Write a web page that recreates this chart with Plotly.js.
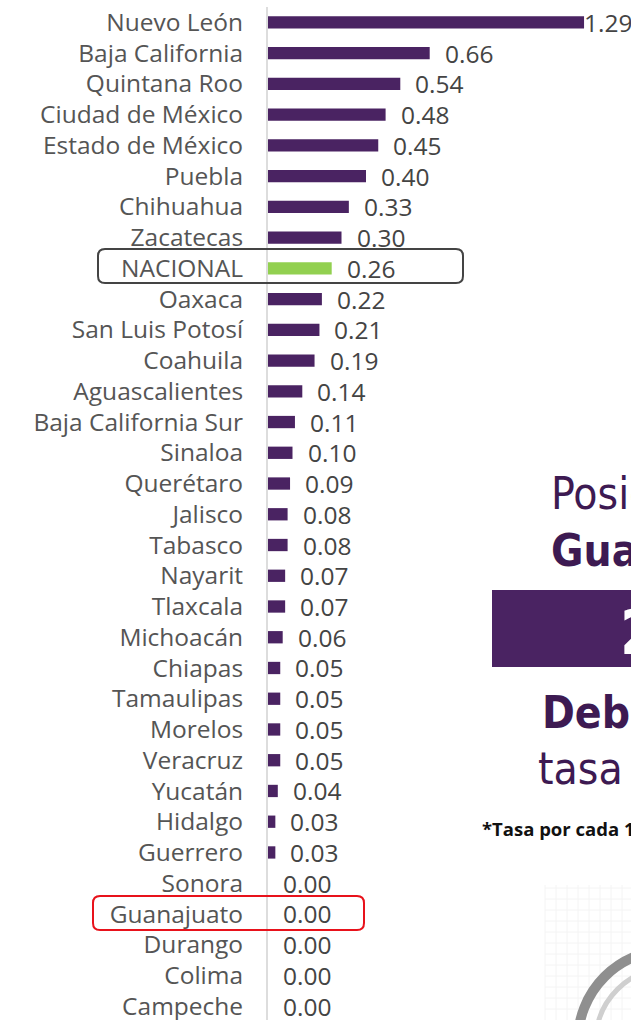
<!DOCTYPE html>
<html>
<head>
<meta charset="utf-8">
<script src="https://cdn.plot.ly/plotly-3.0.1.min.js"></script>
<style>html,body{margin:0;padding:0;background:#fff;overflow:hidden}#chart{width:631px;height:1020px}</style>
</head>
<body>
<div id="chart"></div>
<script>
const estados = ["Nuevo León","Baja California","Quintana Roo","Ciudad de México","Estado de México","Puebla","Chihuahua","Zacatecas","NACIONAL","Oaxaca","San Luis Potosí","Coahuila","Aguascalientes","Baja California Sur","Sinaloa","Querétaro","Jalisco","Tabasco","Nayarit","Tlaxcala","Michoacán","Chiapas","Tamaulipas","Morelos","Veracruz","Yucatán","Hidalgo","Guerrero","Sonora","Guanajuato","Durango","Colima","Campeche"];
const tasas = [1.29,0.66,0.54,0.48,0.45,0.40,0.33,0.30,0.26,0.22,0.21,0.19,0.14,0.11,0.10,0.09,0.08,0.08,0.07,0.07,0.06,0.05,0.05,0.05,0.05,0.04,0.03,0.03,0.00,0.00,0.00,0.00,0.00];
const nacional = "NACIONAL";
const destacado = "Guanajuato";

const purple = "#4a2362";
const green = "#92d050";
const colors = estados.map(e => e === nacional ? green : purple);
const maxVal = Math.max(...tasas);

const labelFont = {family: "Open Sans, Noto Sans, sans-serif", size: 24.5, color: "#555555"};

const trace = {
  type: "bar", orientation: "h",
  x: tasas, y: estados,
  marker: {color: colors},
  width: 0.4,
  hoverinfo: "skip"
};

const annotations = estados.map((e, i) => ({
  x: tasas[i], y: e, xref: "x", yref: "y",
  text: tasas[i].toFixed(2), showarrow: false,
  xanchor: "left", xshift: tasas[i] === maxVal ? -2 : 13,
  font: {family: "Open Sans, Noto Sans, sans-serif", size: 24.5, color: "#444444"}
}));

const narrow = "DejaVu Sans Condensed, Liberation Sans Narrow, Roboto, sans-serif";
annotations.push(
  {xref:"paper", yref:"paper", x:(549-268)/363, y:(1020-493)/1013, xanchor:"left", yanchor:"middle", showarrow:false, text:"Posición de", font:{family:narrow, size:44, color:"#3d1a52"}},
  {xref:"paper", yref:"paper", x:(549-268)/363, y:(1020-550)/1013, xanchor:"left", yanchor:"middle", showarrow:false, text:"<b>Guanajuato</b>", font:{family:narrow, size:44, color:"#3d1a52"}},
  {xref:"paper", yref:"paper", x:(618-268)/363, y:(1020-632)/1013, xanchor:"left", yanchor:"middle", showarrow:false, text:"<b>29°</b>", font:{family:narrow, size:62, color:"#ffffff"}},
  {xref:"paper", yref:"paper", x:(540-268)/363, y:(1020-712)/1013, xanchor:"left", yanchor:"middle", showarrow:false, text:"<b>Debajo de la</b>", font:{family:narrow, size:44, color:"#3d1a52"}},
  {xref:"paper", yref:"paper", x:(536-268)/363, y:(1020-768)/1013, xanchor:"left", yanchor:"middle", showarrow:false, text:"tasa nacional", font:{family:narrow, size:44, color:"#3d1a52"}},
  {xref:"paper", yref:"paper", x:(480-268)/363, y:(1020-828)/1013, xanchor:"left", yanchor:"middle", showarrow:false, text:"<b>*Tasa por cada 100 mil habitantes</b>", font:{family:"Open Sans, sans-serif", size:18.5, color:"#111111"}}
);

// pixel helpers for decorative shapes (page px -> paper)
const W = 363, H = 1013, L = 268, T = 7;
const px = v => (v - L) / W;
const py = v => (T + H - v) / H;
function roundRect(x0, y0, x1, y1, r) {
  const a = px(x0), b = px(x1), c = py(y0), d = py(y1);
  const rx = r / W, ry = r / H;
  return `M ${a+rx} ${c} L ${b-rx} ${c} Q ${b} ${c} ${b} ${c-ry} L ${b} ${d+ry} Q ${b} ${d} ${b-rx} ${d} L ${a+rx} ${d} Q ${a} ${d} ${a} ${d+ry} L ${a} ${c-ry} Q ${a} ${c} ${a+rx} ${c} Z`;
}

const shapes = [
  {type:"rect", xref:"paper", yref:"paper", x0:px(492), x1:px(640), y0:py(590), y1:py(667), fillcolor:"#4a2362", line:{width:0}, layer:"below"},
  {type:"path", xref:"paper", yref:"paper", path: roundRect(98, 249, 463, 283, 7), line:{color:"#444444", width:2}},
  {type:"path", xref:"paper", yref:"paper", path: roundRect(93, 896, 364, 930, 7), line:{color:"#e8121b", width:2}}
];
// faint grid decoration
for (let gx = 545; gx < 640; gx += 11) {
  shapes.push({type:"line", xref:"paper", yref:"paper", x0:px(gx), x1:px(gx), y0:py(885), y1:py(1020), line:{color:"#f4f4f4", width:1}, layer:"below"});
}
for (let gy = 888; gy < 1020; gy += 11) {
  shapes.push({type:"line", xref:"paper", yref:"paper", x0:px(545), x1:px(640), y0:py(gy), y1:py(gy), line:{color:"#f4f4f4", width:1}, layer:"below"});
}
// ring decoration
shapes.push({type:"circle", xref:"paper", yref:"paper", x0:px(578), x1:px(760), y0:py(950), y1:py(1132), line:{color:"#8f8f8f", width:10}, fillcolor:"rgba(0,0,0,0)", layer:"below"});
shapes.push({type:"circle", xref:"paper", yref:"paper", x0:px(596), x1:px(742), y0:py(968), y1:py(1114), line:{color:"#cfcfcf", width:5}, fillcolor:"rgba(0,0,0,0)", layer:"below"});

const layout = {
  width: 631, height: 1020,
  margin: {l: L, r: 0, t: T, b: 0},
  paper_bgcolor: "#ffffff", plot_bgcolor: "rgba(0,0,0,0)",
  showlegend: false,
  bargap: 0.6,
  xaxis: {range: [0, W / 245], visible: false, fixedrange: true},
  yaxis: {
    type: "category", categoryorder: "array", categoryarray: estados,
    range: [32.45, -0.5],
    showline: true, linecolor: "#dddddd", linewidth: 2,
    showgrid: false, zeroline: false,
    ticks: "outside", ticklen: 18, tickcolor: "rgba(0,0,0,0)",
    tickfont: labelFont, automargin: false, fixedrange: true
  },
  annotations: annotations,
  shapes: shapes
};

Plotly.newPlot("chart", [trace], layout, {displayModeBar: false, staticPlot: true});
</script>
</body>
</html>
